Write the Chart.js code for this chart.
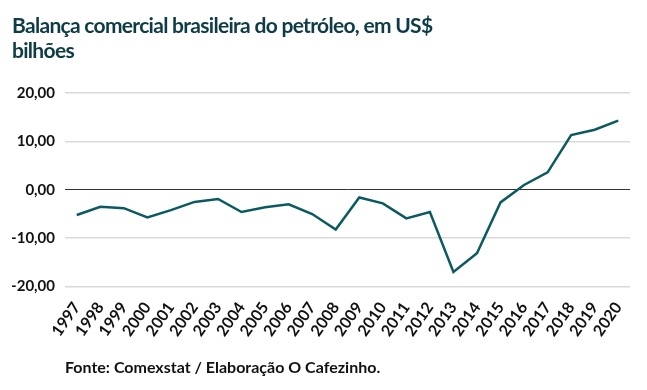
<!DOCTYPE html>
<html>
<head>
<meta charset="utf-8">
<script src="https://cdn.jsdelivr.net/npm/chart.js@4/dist/chart.umd.min.js"></script>
<style>
  html, body { margin: 0; padding: 0; background: #fff; }
  #wrap { position: relative; width: 647px; height: 390px; }
  #title {
    position: absolute; left: 12px; top: 12px; margin: 0;
    font: bold 21px/25px Lato, sans-serif; letter-spacing: -0.7px;
    color: #0e3c46;
  }
</style>
</head>
<body>
<div id="wrap">
  <h1 id="title"></h1>
  <canvas id="chart"></canvas>
</div>
<script>
const years = ['1997','1998','1999','2000','2001','2002','2003','2004','2005','2006','2007','2008',
               '2009','2010','2011','2012','2013','2014','2015','2016','2017','2018','2019','2020'];
const balance = [-5.2, -3.5, -3.8, -5.7, -4.2, -2.5, -1.9, -4.6, -3.6, -3.0, -5.0, -8.2,
                 -1.6, -2.8, -5.9, -4.6, -17.0, -13.1, -2.6, 1.0, 3.6, 11.3, 12.4, 14.3];
const yTicks = [-20, -10, 0, 10, 20];

const titleLines = ['Balança comercial brasileira do petróleo, em US$', 'bilhões'];
const sourceText = 'Fonte: Comexstat / Elaboração O Cafezinho.';

const lineColor = '#0b5a5f';

const titleEl = document.getElementById('title');
titleLines.forEach((t, i) => {
    if (i) titleEl.appendChild(document.createElement('br'));
    titleEl.appendChild(document.createTextNode(t));
});

// source note under the axis, starts at the plot's left edge
const footerPlugin = {
    id: 'footerText',
    afterDraw(chart) {
        const { ctx, chartArea } = chart;
        ctx.save();
        ctx.font = 'bold 16px Lato';
        ctx.fillStyle = '#111';
        ctx.textBaseline = 'middle';
        ctx.fillText(sourceText, chartArea.left, 368);
        ctx.restore();
    }
};

new Chart(document.getElementById('chart'), {
    type: 'line',
    data: {
        labels: years,
        datasets: [{
            data: balance,
            borderColor: lineColor,
            borderWidth: 2.5,
            pointRadius: 0,
            tension: 0,
            fill: false,
        }],
    },
    options: {
        responsive: true,
        maintainAspectRatio: false,
        animation: false,
        layout: { padding: { left: 12, right: 17, top: 93, bottom: 46 } },
        plugins: {
            legend: { display: false },
            tooltip: { enabled: false },
        },
        scales: {
            x: {
                offset: true,
                grid: { display: false },
                border: { display: false },
                ticks: {
                    color: '#111',
                    font: { family: 'Lato', weight: 'bold', size: 16 },
                    minRotation: 55,
                    maxRotation: 55,
                    autoSkip: false,
                    padding: 4,
                },
            },
            y: {
                min: -20,
                max: 20,
                afterBuildTicks: axis => { axis.ticks = yTicks.map(v => ({ value: v })); },
                afterFit: axis => { axis.width = 53; },
                grid: {
                    drawTicks: false,
                    color: ctx => ctx.tick && ctx.tick.value === 0 ? '#333' : '#d9d9d9',
                    lineWidth: ctx => ctx.tick && ctx.tick.value === 0 ? 1 : 1.5,
                },
                border: { display: false },
                ticks: {
                    color: '#111',
                    font: { family: 'Lato', weight: 'bold', size: 15 },
                    padding: 10,
                    callback: v => v.toFixed(2).replace('.', ','),
                },
            },
        },
    },
    plugins: [footerPlugin],
});
</script>
</body>
</html>
